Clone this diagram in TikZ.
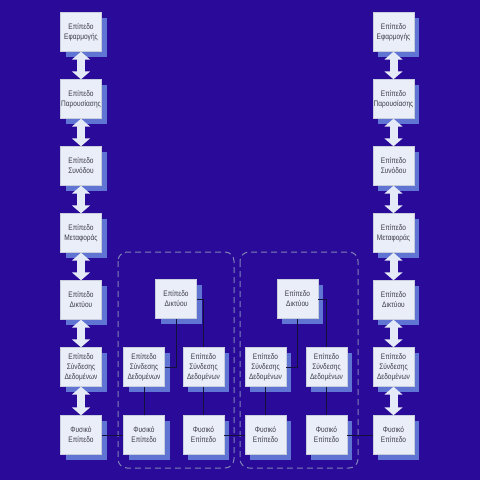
\documentclass[tikz,border=0pt]{standalone}
\usepackage{fontspec}
\setmainfont{Liberation Sans}[FakeStretch=0.82]
\usetikzlibrary{shadows,arrows.meta}
\definecolor{bgc}{RGB}{42,10,152}
\definecolor{boxfill}{RGB}{234,238,248}
\definecolor{boxline}{RGB}{200,205,222}
\definecolor{shadowc}{RGB}{96,116,212}
\definecolor{txt}{RGB}{60,60,70}
\definecolor{arrowc}{RGB}{228,234,248}
\definecolor{linec}{RGB}{20,16,60}
\definecolor{dashc}{RGB}{128,130,185}
\begin{document}
\begin{tikzpicture}[x=1pt,y=-1pt,
  layer/.style={draw=boxline, line width=0.4pt, fill=boxfill, minimum width=41pt, minimum height=39pt, inner sep=0pt, align=center, font=\fontsize{8}{10}\selectfont, text=txt, drop shadow={shadow xshift=5pt, shadow yshift=-5pt, fill=shadowc, opacity=1}},
  link/.style={draw=linec, line width=0.9pt},
  dbl/.style={line width=8pt, draw=arrowc, {Triangle[width=18pt,length=8pt]}-{Triangle[width=18pt,length=8pt]}},
  grp/.style={draw=dashc, line width=1pt, dash pattern=on 6pt off 4pt, rounded corners=9pt}]
\fill[bgc] (0,0) rectangle (480,480);
\useasboundingbox (0,0) rectangle (480,480);
% groups
\draw[grp] (118,252) rectangle (234,468);
\draw[grp] (240,252) rectangle (358,468);
% left column
\node[layer] (l1) at (81,32) {Επίπεδο\\Εφαρμογής};
\node[layer] (l2) at (81,99) {Επίπεδο\\Παρουσίασης};
\node[layer] (l3) at (81,166) {Επίπεδο\\Συνόδου};
\node[layer] (l4) at (81,233) {Επίπεδο\\Μεταφοράς};
\node[layer] (l5) at (81,300) {Επίπεδο\\Δικτύου};
\node[layer] (l6) at (81,367) {Επίπεδο\\Σύνδεσης\\Δεδομένων};
\node[layer] (l7) at (81,435) {Φυσικό\\Επίπεδο};
% right column
\node[layer] (r1) at (393.5,32) {Επίπεδο\\Εφαρμογής};
\node[layer] (r2) at (393.5,99) {Επίπεδο\\Παρουσίασης};
\node[layer] (r3) at (393.5,166) {Επίπεδο\\Συνόδου};
\node[layer] (r4) at (393.5,233) {Επίπεδο\\Μεταφοράς};
\node[layer] (r5) at (393.5,300) {Επίπεδο\\Δικτύου};
\node[layer] (r6) at (393.5,367) {Επίπεδο\\Σύνδεσης\\Δεδομένων};
\node[layer] (r7) at (393.5,435) {Φυσικό\\Επίπεδο};
% group A
\node[layer] (an) at (176,299) {Επίπεδο\\Δικτύου};
\node[layer] (ad1) at (144,367) {Επίπεδο\\Σύνδεσης\\Δεδομένων};
\node[layer] (ad2) at (203.5,367) {Επίπεδο\\Σύνδεσης\\Δεδομένων};
\node[layer] (ap1) at (144,435) {Φυσικό\\Επίπεδο};
\node[layer] (ap2) at (203.5,435) {Φυσικό\\Επίπεδο};
% group B
\node[layer] (bn) at (297.5,299) {Επίπεδο\\Δικτύου};
\node[layer] (bd1) at (265.5,367) {Επίπεδο\\Σύνδεσης\\Δεδομένων};
\node[layer] (bd2) at (326.5,367) {Επίπεδο\\Σύνδεσης\\Δεδομένων};
\node[layer] (bp1) at (265.5,435) {Φυσικό\\Επίπεδο};
\node[layer] (bp2) at (326.5,435) {Φυσικό\\Επίπεδο};
% column arrows
\foreach \a/\b in {l1/l2,l2/l3,l3/l4,l4/l5,l5/l6,l6/l7,r1/r2,r2/r3,r3/r4,r4/r5,r5/r6,r6/r7}
  \draw[dbl] (\a.south) -- (\b.north);
% connectors
\draw[link] (l7.east) -- (ap1.west);
\draw[link] (ap1.north) -- (ad1.south);
\draw[link] (ad1.east) -| (an.south);
\draw[link] (an.east) -| (ad2.north);
\draw[link] (ad2.south) -- (ap2.north);
\draw[link] (ap2.east) -- (bp1.west);
\draw[link] (bp1.north) -- (bd1.south);
\draw[link] (bd1.east) -| (bn.south);
\draw[link] (bn.east) -| (bd2.north);
\draw[link] (bd2.south) -- (bp2.north);
\draw[link] (bp2.east) -- (r7.west);
\end{tikzpicture}
\end{document}
